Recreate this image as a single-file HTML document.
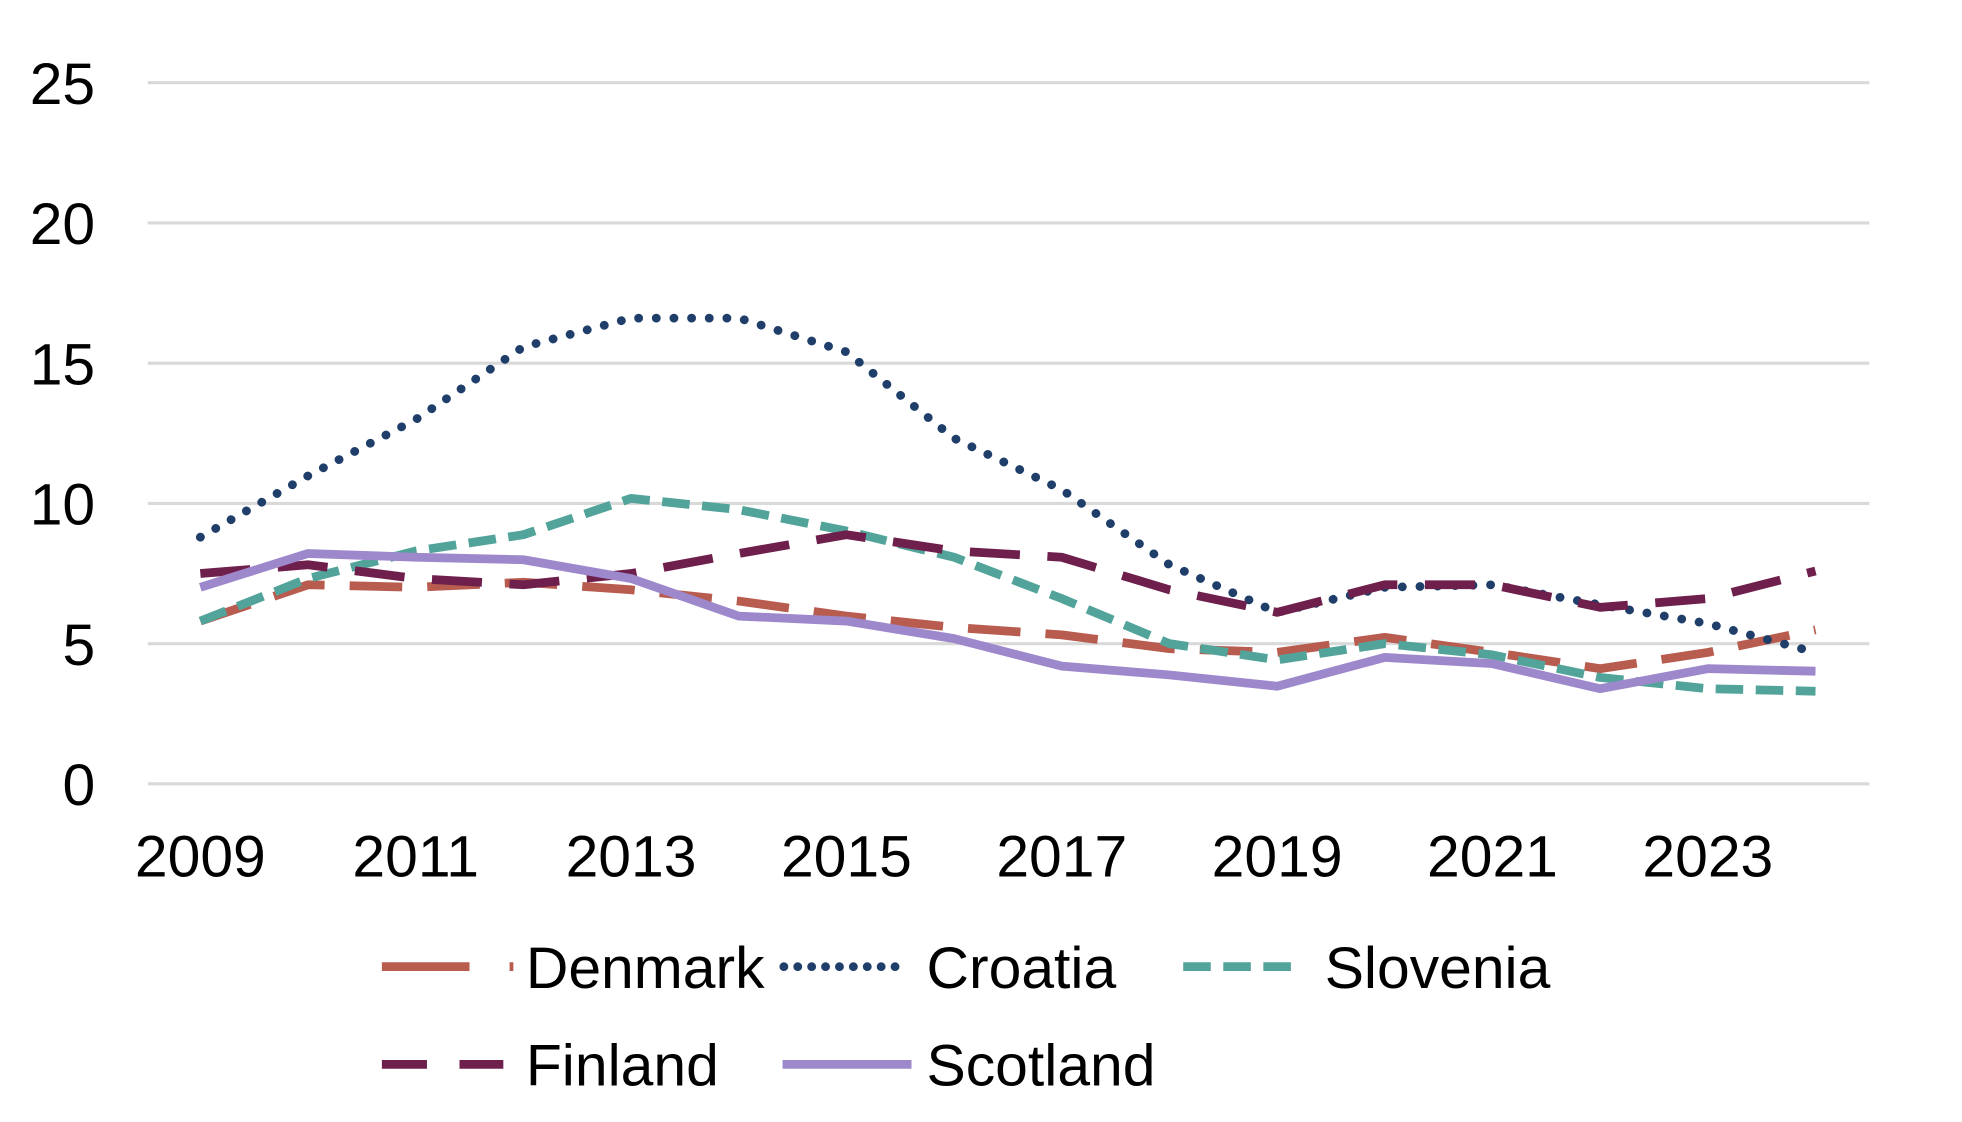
<!DOCTYPE html>
<html><head><meta charset="utf-8"><style>html,body{margin:0;padding:0;background:#fff}svg{display:block}</style></head><body>
<svg width="1962" height="1122" viewBox="0 0 1567 896" xmlns="http://www.w3.org/2000/svg" font-family="Liberation Sans, Arial, sans-serif">
<g stroke="#d9d9d9" stroke-width="2.5">
<line x1="118" x2="1493" y1="66" y2="66"/><line x1="118" x2="1493" y1="178" y2="178"/><line x1="118" x2="1493" y1="290" y2="290"/><line x1="118" x2="1493" y1="402" y2="402"/><line x1="118" x2="1493" y1="514" y2="514"/><line x1="118" x2="1493" y1="626" y2="626"/>
</g>
<g font-size="47" fill="#000" text-anchor="end">
<text x="76" y="83">25</text><text x="76" y="195">20</text><text x="76" y="307">15</text><text x="76" y="419">10</text><text x="76" y="531">5</text><text x="76" y="643">0</text>
</g>
<g font-size="47" fill="#000" text-anchor="middle">
<text x="160" y="700">2009</text><text x="332" y="700">2011</text><text x="504" y="700">2013</text><text x="676" y="700">2015</text><text x="848" y="700">2017</text><text x="1020" y="700">2019</text><text x="1192" y="700">2021</text><text x="1364" y="700">2023</text>
</g>
<g fill="none" stroke-width="7" stroke-linejoin="round">
<polyline stroke="#b85c50" stroke-dasharray="42,20" points="160,496 246,467 332,469 418,465 504,471 590,480 676,492 762,501 848,507 934,518 1020,521 1106,509 1192,521 1278,534 1364,521 1450,503"/>
<polyline stroke="#1f3f6a" stroke-dasharray="0.1,14" stroke-linecap="round" points="160,429 246,380 332,335 418,277 504,254 590,254 676,281 762,350 848,391 934,451 1020,489 1106,469 1192,467 1278,483 1364,498 1450,521"/>
<polyline stroke="#52a39a" stroke-dasharray="22,10" points="160,496 246,462 332,440 418,427 504,398 590,407 676,424 762,445 848,478 934,514 1020,527 1106,514 1192,523 1278,541 1364,550 1450,552"/>
<polyline stroke="#6e1f4c" stroke-dasharray="40,22" points="160,458 246,451 332,462 418,467 504,458 590,442 676,427 762,440 848,445 934,471 1020,489 1106,467 1192,467 1278,485 1364,478 1450,456"/>
<polyline stroke="#9d88cc" points="160,469 246,442 332,445 418,447 504,462 590,492 676,496 762,510 848,532 934,539 1020,548 1106,525 1192,530 1278,550 1364,534 1450,536"/>
</g>
<g stroke-width="7" fill="none">
<line x1="305" x2="410" y1="772" y2="772" stroke="#b85c50" stroke-dasharray="70,32"/>
<line x1="626" x2="720" y1="772" y2="772" stroke="#1f3f6a" stroke-dasharray="0.1,11" stroke-linecap="round"/>
<line x1="945" x2="1040" y1="772" y2="772" stroke="#52a39a" stroke-dasharray="22,10"/>
<line x1="305" x2="402" y1="850" y2="850" stroke="#6e1f4c" stroke-dasharray="36,26"/>
<line x1="625" x2="728" y1="850" y2="850" stroke="#9d88cc"/>
</g>
<g font-size="47" fill="#000">
<text x="420" y="789">Denmark</text><text x="740" y="789">Croatia</text><text x="1058" y="789">Slovenia</text>
<text x="420" y="867">Finland</text><text x="740" y="867">Scotland</text>
</g>
</svg>
</body></html>
